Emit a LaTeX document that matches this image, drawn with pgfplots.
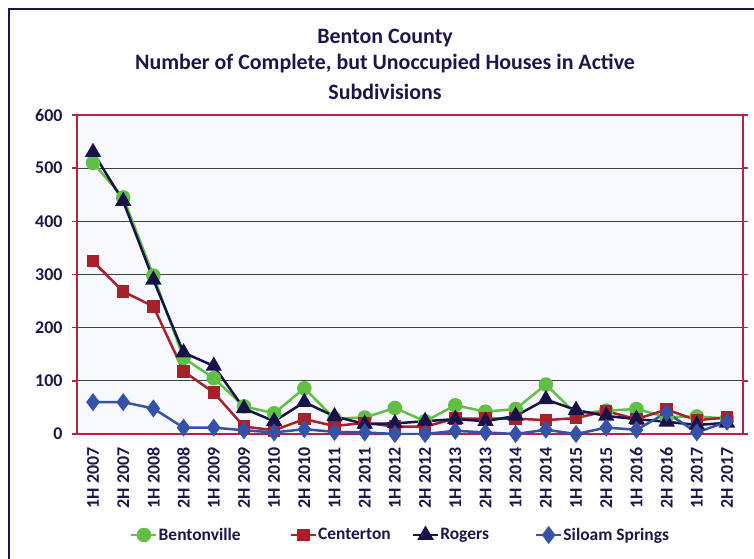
\documentclass[border=0pt]{standalone}
\usepackage{pgfplots}
\pgfplotsset{compat=1.18}
\usepackage{fontspec}
\setmainfont{Carlito}
\definecolor{navy}{HTML}{1B1749}
\definecolor{bgreen}{HTML}{62BE45}
\definecolor{cred}{HTML}{A8202A}
\definecolor{rnavy}{HTML}{17124A}
\definecolor{sblue}{HTML}{3552A8}
\definecolor{frame}{HTML}{B2243F}
\definecolor{plotbg}{HTML}{F7F9FE}
\begin{document}
\begin{tikzpicture}
\path[use as bounding box] (0bp,0bp) rectangle (754bp,-559bp);
\clip (0bp,0bp) rectangle (754bp,-559bp);
\fill[white] (0bp,0bp) rectangle (754bp,-559bp);
\draw[navy, line width=2bp] (9bp,-9bp) rectangle (790bp,-590bp);
\node[font=\bfseries\fontsize{22}{26}\selectfont, text=navy] at (385bp,-38bp) {Benton County};
\node[font=\bfseries\fontsize{22}{26}\selectfont, text=navy] at (385bp,-64bp) {Number of Complete, but Unoccupied Houses in Active};
\node[font=\bfseries\fontsize{22}{26}\selectfont, text=navy] at (385bp,-92bp) {Subdivisions};
\begin{axis}[
  at={(77bp,-434bp)}, anchor=south west,
  scale only axis, width=666bp, height=319bp,
  xmin=-0.53, xmax=21.53, ymin=0, ymax=600,
  ytick={0,100,...,600},
  xtick={0,...,21},
  xticklabels={1H 2007,2H 2007,1H 2008,2H 2008,1H 2009,2H 2009,1H 2010,2H 2010,1H 2011,2H 2011,1H 2012,2H 2012,1H 2013,2H 2013,1H 2014,2H 2014,1H 2015,2H 2015,1H 2016,2H 2016,1H 2017,2H 2017},
  x tick label style={rotate=90, anchor=east, font=\bfseries\fontsize{18}{20}\selectfont, text=navy},
  y tick label style={font=\bfseries\fontsize{18}{20}\selectfont, text=navy},
  /pgf/number format/assume math mode=true,
  xtick style={draw=none},
  ytick style={draw=frame, line width=1.5bp},
  tick align=outside, major tick length=5bp,
  ymajorgrids, grid style={draw=black!75, line width=0.9bp},
  axis line style={draw=frame, line width=2bp},
  axis background/.style={fill=plotbg},
  yticklabel shift=6bp,
  xticklabel shift=5bp,
  legend columns=4,
  legend style={at={(0.0796,-0.3166)}, anchor=west, draw=none, fill=none, inner sep=0pt,
    font=\bfseries\fontsize{17.5}{20}\selectfont, text=navy,
    nodes={inner sep=1bp},
    /tikz/every even column/.append style={column sep=0bp}},
  legend image code/.code={\draw[mark repeat=2,mark phase=2,#1] plot coordinates {(0bp,0bp) (12.5bp,0bp) (25bp,0bp)};},
  every axis plot/.append style={line width=2.5bp},
]
\addplot[color=bgreen, mark=*, mark size=6bp, mark options={solid}] coordinates {
(0,510) (1,445) (2,298) (3,143) (4,105) (5,52) (6,39) (7,86) (8,29) (9,31) (10,49)
(11,24) (12,54) (13,42) (14,47) (15,93) (16,38) (17,44) (18,47) (19,32) (20,33) (21,29)};
\addlegendentry{Bentonville\rule{48bp}{0pt}}
\addplot[color=cred, mark=square*, mark size=5bp, mark options={solid}] coordinates {
(0,325) (1,268) (2,240) (3,118) (4,78) (5,14) (6,7) (7,28) (8,15) (9,21) (10,14)
(11,14) (12,29) (13,29) (14,29) (15,26) (16,30) (17,43) (18,28) (19,46) (20,26) (21,31)};
\addlegendentry{Centerton\rule{20bp}{0pt}}
\addplot[color=rnavy, mark=triangle*, mark size=7bp, mark options={solid}] coordinates {
(0,530) (1,438) (2,290) (3,153) (4,128) (5,48) (6,24) (7,60) (8,33) (9,19) (10,20)
(11,24) (12,28) (13,24) (14,34) (15,65) (16,45) (17,34) (18,28) (19,23) (20,17) (21,21)};
\addlegendentry{Rogers\rule{45bp}{0pt}}
\addplot[color=sblue, mark=diamond*, mark size=7bp, mark options={solid}] coordinates {
(0,60) (1,60) (2,48) (3,12) (4,12) (5,7) (6,3) (7,9) (8,4) (9,3) (10,0)
(11,0) (12,6) (13,3) (14,0) (15,8) (16,0) (17,12) (18,8) (19,40) (20,3) (21,23)};
\addlegendentry{Siloam Springs}
\end{axis}
\end{tikzpicture}
\end{document}
